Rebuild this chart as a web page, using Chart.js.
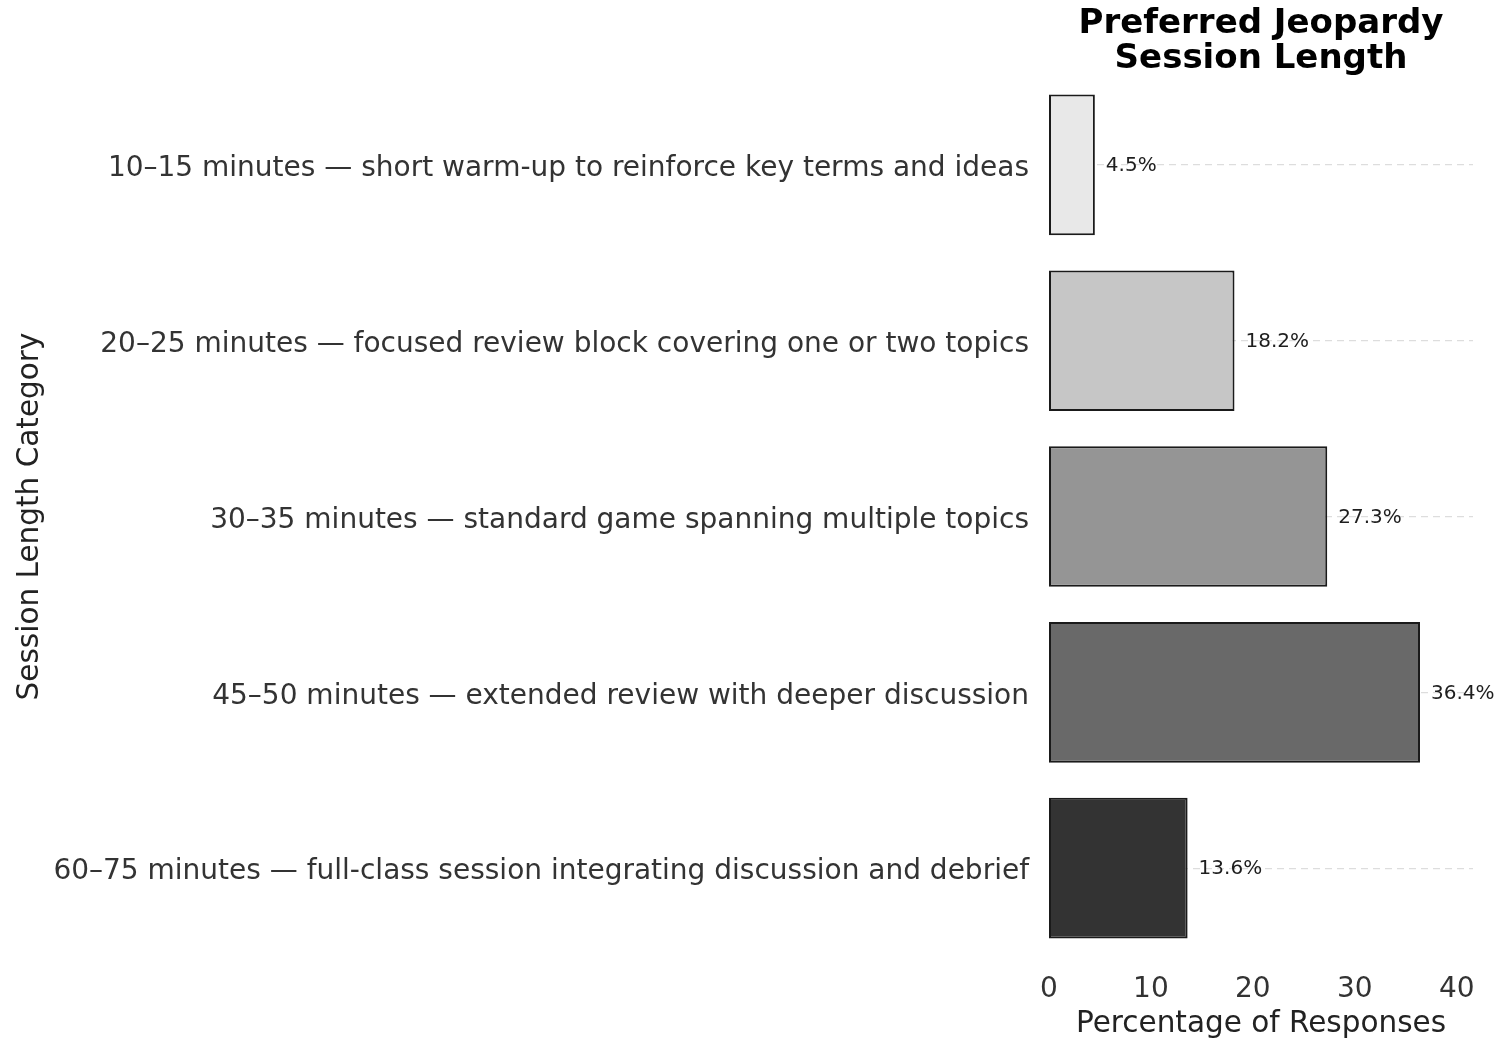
<!DOCTYPE html>
<html>
<head>
<meta charset="utf-8">
<script src="https://cdn.jsdelivr.net/npm/chart.js@4.4.1/dist/chart.umd.min.js"></script>
<style>
  html, body { margin: 0; padding: 0; background: #ffffff; }
  #wrap { width: 1499px; height: 1042px; }
</style>
</head>
<body>
<div id="wrap"><canvas id="chart" width="1499" height="1042"></canvas></div>
<script>
// Session-length categories and share of responses (%)
const categories = [
  "10–15 minutes — short warm-up to reinforce key terms and ideas",
  "20–25 minutes — focused review block covering one or two topics",
  "30–35 minutes — standard game spanning multiple topics",
  "45–50 minutes — extended review with deeper discussion",
  "60–75 minutes — full-class session integrating discussion and debrief"
];
const percentages = [4.5, 18.2, 27.3, 36.4, 13.6];
const valueLabels = ["4.5%", "18.2%", "27.3%", "36.4%", "13.6%"];
const xTicks = [0, 10, 20, 30, 40];
const barFills = ["#e8e8e8", "#c6c6c6", "#959595", "#696969", "#333333"];

const FONT = "'DejaVu Sans', sans-serif";

// Writes each bar's percentage just past its end
const valueLabelPlugin = {
  id: "valueLabels",
  afterDatasetsDraw(chart) {
    const ctx = chart.ctx;
    const meta = chart.getDatasetMeta(0);
    ctx.save();
    ctx.font = "20px " + FONT;
    ctx.fillStyle = "#1e1e1e";
    ctx.textAlign = "left";
    ctx.textBaseline = "middle";
    meta.data.forEach((bar, i) => {
      ctx.fillText(valueLabels[i], bar.x + 11, bar.y + 1);
    });
    ctx.restore();
  }
};

new Chart(document.getElementById("chart"), {
  type: "bar",
  data: {
    labels: categories,
    datasets: [{
      data: percentages,
      backgroundColor: barFills,
      borderColor: "#1a1a1a",
      borderWidth: 2,
      borderSkipped: false,
      barPercentage: 0.8,
      categoryPercentage: 1.0
    }]
  },
  options: {
    indexAxis: "y",
    responsive: false,
    animation: false,
    devicePixelRatio: 1,
    layout: { padding: { top: 7, right: 26, bottom: 0, left: 0 } },
    plugins: {
      legend: { display: false },
      tooltip: { enabled: false },
      title: {
        display: true,
        fullSize: false,
        text: ["Preferred Jeopardy", "Session Length"],
        color: "#000000",
        font: { family: FONT, size: 34, weight: "bold", lineHeight: 1.03 },
        padding: { top: 0, bottom: 0 }
      }
    },
    scales: {
      x: {
        type: "linear",
        min: 0,
        max: 41.6,
        afterBuildTicks(scale) {
          scale.ticks = xTicks.map(v => ({ value: v }));
        },
        afterFit(scale) { scale.height = 86; },
        grid: { display: false, drawTicks: false },
        border: { display: false },
        ticks: {
          color: "#333333",
          font: { family: FONT, size: 28 },
          padding: 17
        },
        title: {
          display: true,
          text: "Percentage of Responses",
          color: "#222222",
          font: { family: FONT, size: 29.5 },
          padding: { top: 3, bottom: 0 }
        }
      },
      y: {
        type: "category",
        afterFit(scale) { scale.width = 1049; },
        grid: {
          display: true,
          offset: false,
          color: "#dddddd",
          lineWidth: 1.2,
          drawTicks: false
        },
        border: { display: false, dash: [7, 5] },
        ticks: {
          color: "#333333",
          font: { family: FONT, size: 28 },
          padding: 20,
          labelOffset: 4
        },
        title: {
          display: true,
          text: "Session Length Category",
          color: "#222222",
          font: { family: FONT, size: 29.5 },
          padding: { top: 13, bottom: 0 }
        }
      }
    }
  },
  plugins: [valueLabelPlugin]
});
</script>
</body>
</html>
